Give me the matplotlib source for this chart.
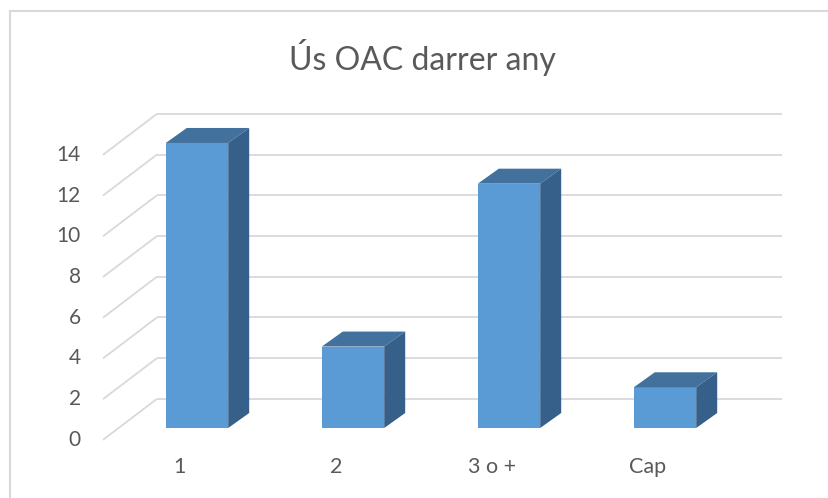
import matplotlib
matplotlib.use("Agg")
import matplotlib.pyplot as plt
from matplotlib.patches import Polygon, Rectangle

categories = ["1", "2", "3 o +", "Cap"]
values = [14, 4, 12, 2]
yticks = [0, 2, 4, 6, 8, 10, 12, 14]
title = "Ús OAC darrer any"

W, H = 829, 498
fig = plt.figure(figsize=(W / 100, H / 100), dpi=100)
ax = fig.add_axes([0, 0, 1, 1])
px_x = 156.0      # pixels per category
px_y = 20.36      # pixels per unit
x0_px, y0_px = 197.0, 70.0
ax.set_xlim(-x0_px / px_x, (W - x0_px) / px_x)
ax.set_ylim(-y0_px / px_y, (H - y0_px) / px_y)
ax.axis("off")

font = ["Lato", "DejaVu Sans"]
gray = "#595959"
grid = "#d9d9d9"

# depth vector (full floor depth) in data units
Dx, Dy = 54 / px_x, 41 / px_y
f_front = -0.29   # label/front plane relative to bar front
f_back = 0.71     # back wall
xr = (782 - x0_px) / px_x

for v in yticks:
    xb, yb = -0.603 + (f_back - f_front) * Dx, v + f_back * Dy
    xf, yf = -0.603, v + f_front * Dy
    ax.plot([xf, xb], [yf, yb], color=grid, lw=1.3, zorder=1, solid_capstyle="butt")
    ax.plot([xb, xr], [yb, yb], color=grid, lw=1.3, zorder=1, solid_capstyle="butt")
    ax.text(-0.745, yf, str(v), ha="right", va="center", fontsize=15,
            color=gray, family=font)

# bars
bw = 0.40
bdx, bdy = 21 / px_x, 15 / px_y
front_c = "#5b9bd5"
top_c = "#41719c"
side_c = "#365f8a"
xs = list(range(len(categories)))
bars = ax.bar(xs, values, width=bw, color=front_c, zorder=3, edgecolor="none")
for b in bars:
    x1 = b.get_x()
    x2 = x1 + b.get_width()
    h = b.get_height()
    ax.add_patch(Polygon([(x1, h), (x2, h), (x2 + bdx, h + bdy), (x1 + bdx, h + bdy)],
                         closed=True, facecolor=top_c, edgecolor="none", zorder=3))
    ax.add_patch(Polygon([(x2, 0), (x2 + bdx, bdy), (x2 + bdx, h + bdy), (x2, h)],
                         closed=True, facecolor=side_c, edgecolor="none", zorder=3))

for i, c in enumerate(categories):
    ax.text(i - 0.11, (31 - y0_px) / px_y, c, ha="center", va="center",
            fontsize=15.5, color=gray, family=font)

fig.text(422 / W, 1 - 57 / H, title, ha="center", va="center", fontsize=23,
         color=gray, family=font)

# chart border
fig.add_artist(Rectangle((10 / W, -0.01), 1.0, 1 - 11 / H + 0.01, transform=fig.transFigure,
                         fill=False, edgecolor="#d9d9d9", lw=1.5))

fig.savefig("out.png", dpi=100)
